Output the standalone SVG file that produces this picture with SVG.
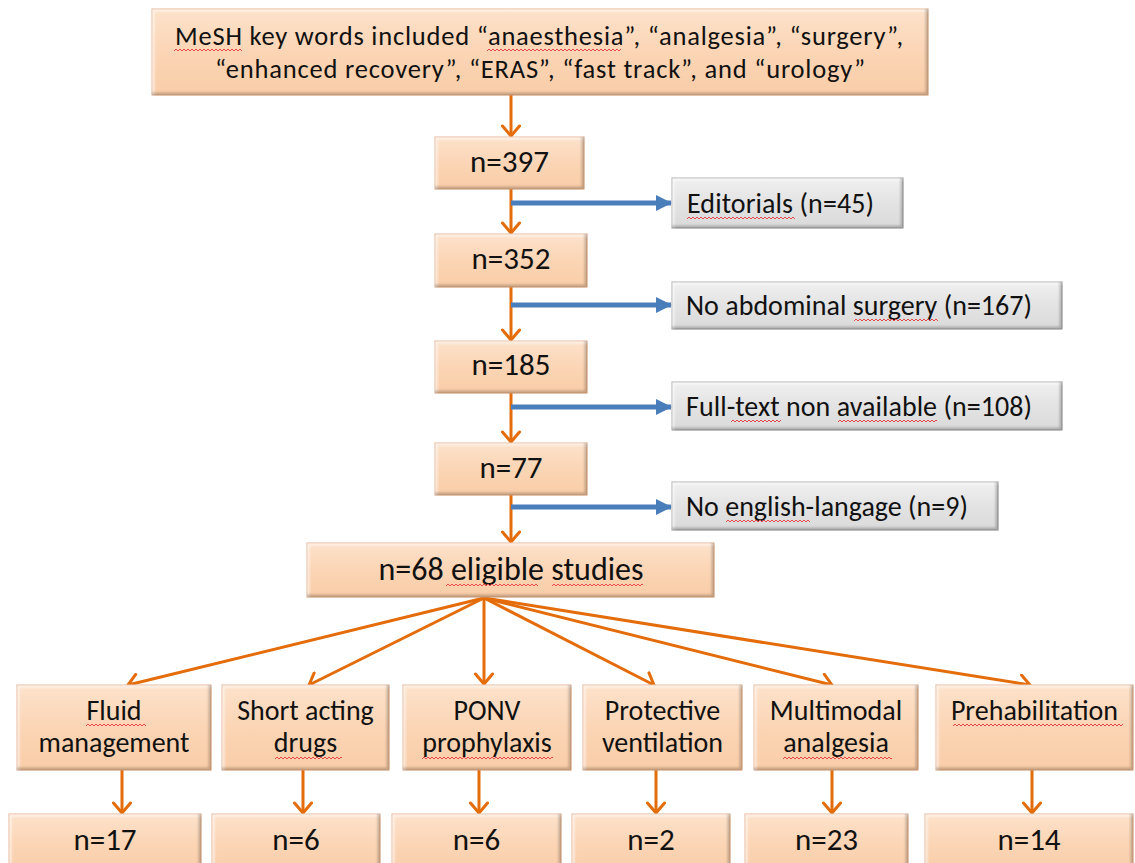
<svg xmlns="http://www.w3.org/2000/svg" width="1135" height="863" viewBox="0 0 1135 863">
<style>
  text{font-family:Carlito,Lato,"Liberation Sans",sans-serif;fill:#111;}
  .top{font-size:26.5px;text-anchor:start;}
  .num{font-size:31px;text-anchor:middle;}
  .gr{font-size:28px;}
  .cat{font-size:28px;text-anchor:middle;}
  .el{font-size:32px;text-anchor:middle;}
  .peach{fill:url(#gp);stroke:#dfa57a;stroke-width:1;filter:url(#bevel);}
  .gray{fill:url(#gg);stroke:#9a9a9a;stroke-width:1;filter:url(#bevel);}
  .o{stroke:#E46C0A;stroke-width:3;fill:none;marker-end:url(#ao);}
  .b{stroke:#4A7EBB;stroke-width:5;fill:none;marker-end:url(#ab);}
  .wv{fill:url(#wv);}
</style>
<defs>
  <linearGradient id="gp" x1="0" y1="0" x2="0" y2="1">
    <stop offset="0" stop-color="#fde2cb"/>
    <stop offset="0.5" stop-color="#fbd5b5"/>
    <stop offset="1" stop-color="#f9cda8"/>
  </linearGradient>
  <linearGradient id="gg" x1="0" y1="0" x2="0" y2="1">
    <stop offset="0" stop-color="#f0f0f0"/>
    <stop offset="0.5" stop-color="#e3e3e3"/>
    <stop offset="1" stop-color="#dadada"/>
  </linearGradient>
  <pattern id="wv" patternUnits="userSpaceOnUse" width="4" height="4">
    <path d="M0,3 L2,1 L4,3" fill="none" stroke="#e8474a" stroke-width="1"/>
  </pattern>
  <filter id="bevel" x="-5%" y="-10%" width="110%" height="120%">
    <feOffset in="SourceAlpha" dx="-3" dy="-3" result="s1"/>
    <feComposite in="SourceAlpha" in2="s1" operator="out" result="br"/>
    <feOffset in="SourceAlpha" dx="3" dy="3" result="s2"/>
    <feComposite in="SourceAlpha" in2="s2" operator="out" result="tl"/>
    <feFlood flood-color="#000" flood-opacity="0.45"/>
    <feComposite in2="br" operator="in" result="dk"/>
    <feGaussianBlur in="dk" stdDeviation="0.8"/>
    <feComposite in2="SourceAlpha" operator="in" result="dark"/>
    <feFlood flood-color="#fff" flood-opacity="0.55"/>
    <feComposite in2="tl" operator="in" result="lt"/>
    <feGaussianBlur in="lt" stdDeviation="0.8"/>
    <feComposite in2="SourceAlpha" operator="in" result="light"/>
    <feMerge><feMergeNode in="SourceGraphic"/><feMergeNode in="light"/><feMergeNode in="dark"/></feMerge>
  </filter>
  <marker id="ao" markerUnits="userSpaceOnUse" viewBox="0 0 14 20" refX="12" refY="10" markerWidth="14" markerHeight="20" orient="auto">
    <path d="M2,1.5 L12,10 L2,18.5" fill="none" stroke="#E46C0A" stroke-width="3" stroke-linecap="round" stroke-linejoin="round"/>
  </marker>
  <marker id="ab" markerUnits="userSpaceOnUse" viewBox="0 0 16 16" refX="15" refY="8" markerWidth="16" markerHeight="16" orient="auto">
    <path d="M0,0 L16,8 L0,16 z" fill="#4A7EBB"/>
  </marker>
</defs>

<g id="connectors">
  <line class="o" x1="511" y1="95" x2="511" y2="136"/>
  <line class="o" x1="511" y1="189" x2="511" y2="233"/>
  <line class="o" x1="511" y1="287" x2="511" y2="340"/>
  <line class="o" x1="511" y1="393" x2="511" y2="442"/>
  <line class="o" x1="511" y1="495" x2="511" y2="542"/>
  <line class="b" x1="511" y1="203" x2="671" y2="203"/>
  <line class="b" x1="511" y1="305" x2="671" y2="305"/>
  <line class="b" x1="511" y1="407" x2="671" y2="407"/>
  <line class="b" x1="511" y1="507" x2="671" y2="507"/>
  <line class="o" x1="484" y1="598" x2="128" y2="685"/>
  <line class="o" x1="484" y1="598" x2="309" y2="685"/>
  <line class="o" x1="484" y1="598" x2="484" y2="684"/>
  <line class="o" x1="484" y1="598" x2="654" y2="685"/>
  <line class="o" x1="484" y1="598" x2="832" y2="685"/>
  <line class="o" x1="484" y1="598" x2="1030" y2="685"/>
  <line class="o" x1="122" y1="770" x2="122" y2="813"/>
  <line class="o" x1="303" y1="770" x2="303" y2="813"/>
  <line class="o" x1="479" y1="770" x2="479" y2="813"/>
  <line class="o" x1="656" y1="770" x2="656" y2="813"/>
  <line class="o" x1="832" y1="770" x2="832" y2="813"/>
  <line class="o" x1="1032" y1="770" x2="1032" y2="813"/>
</g>

<g id="n-search">
  <rect class="peach" x="152" y="9" width="776" height="86"/>
  <text class="top" x="175" y="45" textLength="728">MeSH key words included “anaesthesia”, “analgesia”, “surgery”,</text>
  <text class="top" x="215" y="78" textLength="650">“enhanced recovery”, “ERAS”, “fast track”, and “urology”</text>
  <rect class="wv" transform="translate(174,48)" width="68" height="4"/>
  <rect class="wv" transform="translate(487,48)" width="134" height="4"/>
</g>
<g id="n-397">
  <rect class="peach" x="435" y="137" width="149" height="52"/>
  <text class="num" x="509.5" y="172">n=397</text>
</g>
<g id="n-editorials">
  <rect class="gray" x="672" y="178" width="231" height="50"/>
  <text class="gr" x="687" y="213" textLength="187">Editorials (n=45)</text>
  <rect class="wv" transform="translate(687,216)" width="108" height="4"/>
</g>
<g id="n-352">
  <rect class="peach" x="435" y="234" width="152" height="53"/>
  <text class="num" x="511" y="269">n=352</text>
</g>
<g id="n-noabd">
  <rect class="gray" x="672" y="282" width="390" height="47"/>
  <text class="gr" x="686" y="315" textLength="346">No abdominal surgery (n=167)</text>
  <rect class="wv" transform="translate(854,318)" width="84" height="4"/>
</g>
<g id="n-185">
  <rect class="peach" x="435" y="341" width="152" height="52"/>
  <text class="num" x="511" y="375">n=185</text>
</g>
<g id="n-fulltext">
  <rect class="gray" x="672" y="382" width="390" height="48"/>
  <text class="gr" x="686" y="416" textLength="346">Full-text non available (n=108)</text>
  <rect class="wv" transform="translate(731,419)" width="50" height="4"/>
  <rect class="wv" transform="translate(838,419)" width="99" height="4"/>
</g>
<g id="n-77">
  <rect class="peach" x="435" y="443" width="152" height="52"/>
  <text class="num" x="511" y="478">n=77</text>
</g>
<g id="n-english">
  <rect class="gray" x="672" y="482" width="326" height="48"/>
  <text class="gr" x="686" y="516" textLength="282">No english-langage (n=9)</text>
  <rect class="wv" transform="translate(726,519)" width="84" height="4"/>
</g>
<g id="n-eligible">
  <rect class="peach" x="307" y="543" width="407" height="54"/>
  <text class="el" x="511" y="580" textLength="265">n=68 eligible studies</text>
  <rect class="wv" transform="translate(446,583)" width="92" height="4"/>
  <rect class="wv" transform="translate(552,583)" width="91" height="4"/>
</g>

<g id="n-fluid">
  <rect class="peach" x="17" y="685" width="194" height="85"/>
  <text class="cat" x="114" y="720">Fluid</text>
  <text class="cat" x="114" y="752">management</text>
  <rect class="wv" transform="translate(86,723)" width="60" height="4"/>
</g>
<g id="n-short">
  <rect class="peach" x="222" y="685" width="167" height="85"/>
  <text class="cat" x="305.5" y="720">Short acting</text>
  <text class="cat" x="305.5" y="752">drugs</text>
  <rect class="wv" transform="translate(275,756)" width="67" height="4"/>
</g>
<g id="n-ponv">
  <rect class="peach" x="403" y="685" width="168" height="85"/>
  <text class="cat" x="487" y="720">PONV</text>
  <text class="cat" x="487" y="752">prophylaxis</text>
  <rect class="wv" transform="translate(422,756)" width="131" height="4"/>
</g>
<g id="n-protective">
  <rect class="peach" x="583" y="685" width="159" height="85"/>
  <text class="cat" x="662.5" y="720">Protective</text>
  <text class="cat" x="662.5" y="752">ventilation</text>
</g>
<g id="n-multimodal">
  <rect class="peach" x="754" y="685" width="164" height="85"/>
  <text class="cat" x="836" y="720">Multimodal</text>
  <text class="cat" x="836" y="752">analgesia</text>
  <rect class="wv" transform="translate(783,756)" width="109" height="4"/>
</g>
<g id="n-prehab">
  <rect class="peach" x="936" y="685" width="197" height="85"/>
  <text class="cat" x="1034.5" y="720">Prehabilitation</text>
  <rect class="wv" transform="translate(953,723)" width="170" height="4"/>
</g>

<g id="n-17">
  <rect class="peach" x="9" y="814" width="192" height="60"/>
  <text class="num" x="105" y="850">n=17</text>
</g>
<g id="n-6a">
  <rect class="peach" x="212" y="814" width="168" height="60"/>
  <text class="num" x="296" y="850">n=6</text>
</g>
<g id="n-6b">
  <rect class="peach" x="392" y="814" width="169" height="60"/>
  <text class="num" x="476.5" y="850">n=6</text>
</g>
<g id="n-2">
  <rect class="peach" x="572" y="814" width="158" height="60"/>
  <text class="num" x="651" y="850">n=2</text>
</g>
<g id="n-23">
  <rect class="peach" x="745" y="814" width="163" height="60"/>
  <text class="num" x="826.5" y="850">n=23</text>
</g>
<g id="n-14">
  <rect class="peach" x="925" y="814" width="208" height="60"/>
  <text class="num" x="1029" y="850">n=14</text>
</g>
</svg>
